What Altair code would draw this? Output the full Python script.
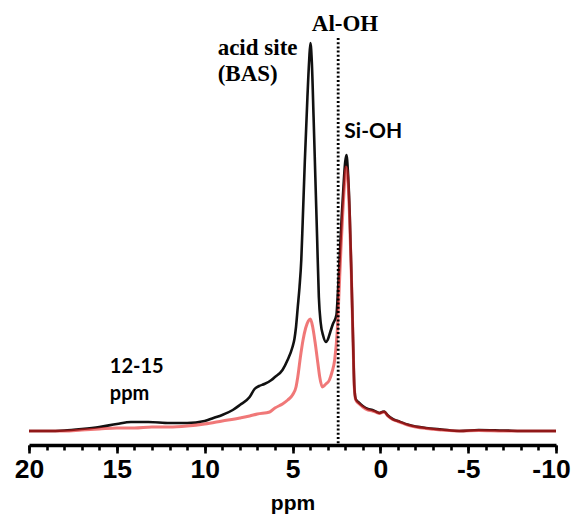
import altair as alt
import pandas as pd

# ---- data (ppm, intensity in arbitrary units) ----
black_ppm = [20.0, 19.0, 18.0, 17.0, 16.0, 15.0, 14.2, 13.2, 12.0, 11.0, 10.0, 9.5, 9.0, 8.4, 8.0,
             7.44, 7.16, 6.9, 6.6, 6.2, 6.0, 5.57, 5.28, 5.0, 4.89, 4.8, 4.7, 4.6, 4.5, 4.42, 4.3,
             4.15, 4.05, 3.98, 3.9, 3.8, 3.7, 3.6, 3.5, 3.4, 3.25, 3.1, 3.0, 2.85, 2.7, 2.5, 2.4,
             2.3, 2.2, 2.1, 2.0, 1.93, 1.85, 1.75, 1.65, 1.55, 1.48, 1.4, 1.2, 1.0, 0.7, 0.45, 0.2,
             0.06, -0.1, -0.23, -0.4, -0.7, -1.0, -1.65, -2.6, -3.5, -4.5, -5.6, -7.0, -8.5, -10.0]
black_int = [1.0, 1.0, 1.5, 3, 5, 8, 10, 10, 9, 9, 11, 14, 17, 22, 27,
             35, 43, 46, 48, 52, 55, 62, 72, 85, 93, 105, 125, 145, 172, 210, 270,
             335, 372, 389, 370, 315, 255, 195, 135, 110, 96, 90, 92, 100, 108, 117, 145,
             180, 215, 245, 270, 277, 262, 222, 160, 90, 45, 33, 29, 26, 23, 22, 20,
             19, 20, 20.5, 17, 13, 11, 7, 4, 2.5, 1, 2, 1.5, 1, 1]

red_ppm = [20.0, 18.0, 17.0, 16.0, 15.0, 14.0, 13.0, 12.0, 11.0, 10.0, 9.0, 8.0, 7.44, 7.0, 6.3,
           6.0, 5.57, 5.27, 5.0, 4.8, 4.7, 4.55, 4.4, 4.25, 4.1, 3.98, 3.85, 3.7, 3.55, 3.45, 3.3,
           3.1, 2.9, 2.75, 2.6, 2.45, 2.35, 2.25, 2.15, 2.05, 1.95, 1.87, 1.75, 1.65, 1.55, 1.48,
           1.4, 1.2, 1.0, 0.7, 0.45, 0.2, 0.06, -0.1, -0.23, -0.4, -0.7, -1.0, -1.65, -2.6, -3.5,
           -4.5, -5.6, -7.0, -8.5, -10.0]
red_int = [1, 1, 2, 3, 4, 4, 5, 5, 6, 8, 11, 14, 16, 18, 20,
           24, 28, 32, 37, 45, 55, 75, 92, 104, 111, 113, 105, 88, 68, 55, 45,
           48, 52, 60, 72, 102, 140, 180, 215, 245, 265, 258, 215, 158, 88, 44,
           32, 28, 25, 22, 21, 19.5, 18.5, 19.5, 20, 16.5, 12.5, 10.5, 6.5, 3.5, 2,
           1, 1.5, 1, 1, 1]

major_ticks = [20, 15, 10, 5, 0, -5, -10]
minor_ticks = list(range(-10, 21))
al_oh_ppm = 2.4

black_df = pd.DataFrame({"ppm": black_ppm, "intensity": black_int})
red_df = pd.DataFrame({"ppm": red_ppm, "intensity": red_int})

x_scale = alt.Scale(domain=[20, -10], nice=False, zero=False)
y_scale = alt.Scale(domain=[-13, 412], nice=False, zero=False)

major_axis = alt.Axis(
    orient="bottom", values=major_ticks, labelExpr="'' + datum.value",
    labelFont="Liberation Sans", labelFontSize=26.5, labelFontWeight="bold", labelColor="black",
    labelFlush=False, labelOverlap=False, labelBound=False, labelPadding=3,
    labelOffset={"condition": {"test": "datum.value === -10", "value": -5}, "value": 0},
    tickColor="black", tickWidth=2.6, tickSize=8,
    domainColor="black", domainWidth=3.5, grid=False,
    title="ppm", titleFont="Liberation Sans", titleFontSize=21, titleFontWeight="bold",
    titleColor="black", titleY=64, titleBaseline="alphabetic",
)
minor_axis = alt.Axis(
    orient="bottom", values=minor_ticks, labels=False, domain=False, grid=False,
    tickColor="black", tickWidth=2.6, tickSize=5, title=None,
)

y_enc = alt.Y("intensity:Q", scale=y_scale, axis=None)

black_line = alt.Chart(black_df).mark_line(color="#111111", strokeWidth=2.6, interpolate="monotone").encode(
    x=alt.X("ppm:Q", scale=x_scale, axis=major_axis), y=y_enc,
    order=alt.Order("ppm:Q", sort="descending"))
red_line = alt.Chart(red_df).mark_line(color="#e61e1e", strokeWidth=3, opacity=0.6, interpolate="monotone").encode(
    x=alt.X("ppm:Q", scale=x_scale, axis=minor_axis), y=y_enc,
    order=alt.Order("ppm:Q", sort="descending"))

dotted = alt.Chart().mark_rule(color="black", strokeWidth=2.8, strokeDash=[2, 2.2]).encode(
    x=alt.XDatum(al_oh_ppm, axis=None), y=alt.YDatum(394, axis=None), y2=alt.datum(-13))


def label(text, ppm, inten, font, size):
    return alt.Chart().mark_text(text=text, align="left", baseline="alphabetic", font=font,
                                 fontSize=size, fontWeight="bold", color="black").encode(
        x=alt.XDatum(ppm, axis=None), y=alt.YDatum(inten, axis=None))


serif = "Liberation Serif"
sans = "Lato"
texts = [
    label("acid site", 9.26, 377, serif, 23),
    label("(BAS)", 9.26, 351, serif, 23),
    label("Al-OH", 3.9, 401, serif, 23),
    label("Si-OH", 2.05, 294, sans, 21),
    label("12-15", 15.4, 59, sans, 20),
    label("ppm", 15.4, 32, sans, 20),
]

chart = alt.layer(black_line, red_line, dotted, *texts).resolve_axis(x="independent").properties(
    width=527, height=425,
    padding={"left": 21, "right": 17, "top": 12, "bottom": 71},
    autosize=alt.AutoSizeParams(type="none"),
).configure_view(stroke=None)

chart.save("out.html", embed_options={"renderer": "svg", "actions": False})
